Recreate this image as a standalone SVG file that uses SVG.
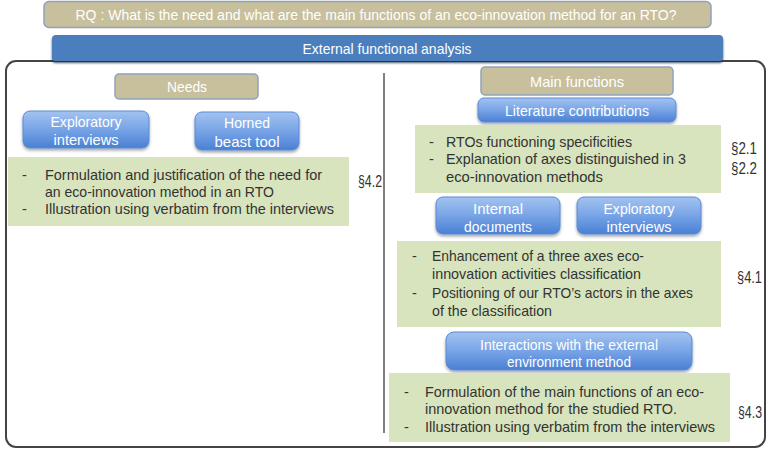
<svg xmlns="http://www.w3.org/2000/svg" width="768" height="450" viewBox="0 0 768 450">
<defs>
<linearGradient id="gBlue" x1="0" y1="0" x2="0" y2="1">
<stop offset="0" stop-color="#a3c3f0"/>
<stop offset="0.5" stop-color="#78a4e6"/>
<stop offset="1" stop-color="#4a80d4"/>
</linearGradient>
<filter id="sh" x="-10%" y="-20%" width="120%" height="160%">
<feDropShadow dx="0" dy="2" stdDeviation="1.5" flood-color="#000" flood-opacity="0.35"/>
</filter>
<filter id="shDark" x="-5%" y="-20%" width="110%" height="160%">
<feDropShadow dx="0" dy="2" stdDeviation="1.2" flood-color="#1a2a44" flood-opacity="0.8"/>
</filter>
</defs>
<style>
text{font-family:"Liberation Sans",Arial,sans-serif;}
.tan{fill:#c8bf9c;stroke:#8ea2bc;stroke-width:1.5;}
.btn{fill:url(#gBlue);stroke:#5b8ad2;stroke-width:1;filter:url(#sh);}
.green{fill:#d7e4bd;}
.w{fill:#ffffff;font-size:15px;text-anchor:middle;}
.t{fill:#333333;font-size:14.5px;}
.sec{fill:#333333;font-size:16px;}
</style>
<g id="rq">
<rect class="tan" x="44" y="1.5" width="667" height="26" rx="5"/>
<text class="w" x="376" y="19.5" font-size="15.5" textLength="601" lengthAdjust="spacingAndGlyphs" fill="#f4f2ea">RQ : What is the need and what are the main functions of an eco-innovation method for an RTO?</text>
</g>
<g id="outer">
<rect x="6" y="61" width="759" height="386" rx="10" fill="#ffffff" stroke="#444444" stroke-width="2"/>
</g>
<g id="efa">
<rect x="52" y="35" width="671" height="26" rx="4" fill="#4b7ebd" filter="url(#shDark)"/>
<text class="w" x="387" y="53.5" textLength="169" lengthAdjust="spacingAndGlyphs">External functional analysis</text>
</g>
<g id="connectors">
<line x1="384" y1="73" x2="384" y2="433" stroke="#555555" stroke-width="1.5"/>
</g>
<g id="needs">
<rect class="tan" x="115" y="74" width="143" height="25" rx="4"/>
<text class="w" x="187" y="92" textLength="40" lengthAdjust="spacingAndGlyphs">Needs</text>
</g>
<g id="expl-left">
<rect class="btn" x="23" y="111" width="126" height="37" rx="7"/>
<text class="w" x="86" y="126.5" textLength="71" lengthAdjust="spacingAndGlyphs">Exploratory</text>
<text class="w" x="86" y="144.5" textLength="65" lengthAdjust="spacingAndGlyphs">interviews</text>
</g>
<g id="horned">
<rect class="btn" x="195" y="112" width="104" height="38" rx="7"/>
<text class="w" x="247" y="127.5" textLength="46" lengthAdjust="spacingAndGlyphs">Horned</text>
<text class="w" x="247" y="146.5" textLength="65" lengthAdjust="spacingAndGlyphs">beast tool</text>
</g>
<g id="need-result">
<rect class="green" x="8" y="157" width="341" height="69"/>
<text class="t" x="22" y="180">-</text>
<text class="t" x="45" y="180" textLength="277" lengthAdjust="spacingAndGlyphs">Formulation and justification of the need for</text>
<text class="t" x="45" y="197" textLength="229" lengthAdjust="spacingAndGlyphs">an eco-innovation method in an RTO</text>
<text class="t" x="22" y="214">-</text>
<text class="t" x="45" y="214" textLength="289" lengthAdjust="spacingAndGlyphs">Illustration using verbatim from the interviews</text>
<text class="sec" x="358" y="187" textLength="24" lengthAdjust="spacingAndGlyphs">§4.2</text>
</g>
<g id="main-functions">
<rect class="tan" x="481" y="67" width="192" height="28" rx="4"/>
<text class="w" x="577" y="86.5" textLength="94" lengthAdjust="spacingAndGlyphs">Main functions</text>
</g>
<g id="literature">
<rect class="btn" x="478" y="98" width="198" height="24" rx="6"/>
<text class="w" x="577" y="115.5" textLength="144" lengthAdjust="spacingAndGlyphs">Literature contributions</text>
</g>
<g id="lit-result">
<rect class="green" x="415" y="125" width="306" height="68"/>
<text class="t" x="429" y="147">-</text>
<text class="t" x="446" y="147" textLength="186" lengthAdjust="spacingAndGlyphs">RTOs functioning specificities</text>
<text class="t" x="429" y="164">-</text>
<text class="t" x="446" y="164" textLength="240" lengthAdjust="spacingAndGlyphs">Explanation of axes distinguished in 3</text>
<text class="t" x="446" y="182" textLength="157" lengthAdjust="spacingAndGlyphs">eco-innovation methods</text>
<text class="sec" x="731" y="154" textLength="26" lengthAdjust="spacingAndGlyphs">§2.1</text>
<text class="sec" x="731" y="174" textLength="26" lengthAdjust="spacingAndGlyphs">§2.2</text>
</g>
<g id="internal-docs">
<rect class="btn" x="436" y="197" width="124" height="37" rx="7"/>
<text class="w" x="498" y="213.5" textLength="50" lengthAdjust="spacingAndGlyphs">Internal</text>
<text class="w" x="498" y="231.5" textLength="68" lengthAdjust="spacingAndGlyphs">documents</text>
</g>
<g id="expl-right">
<rect class="btn" x="577" y="197" width="124" height="37" rx="7"/>
<text class="w" x="639" y="213.5" textLength="71" lengthAdjust="spacingAndGlyphs">Exploratory</text>
<text class="w" x="639" y="231.5" textLength="65" lengthAdjust="spacingAndGlyphs">interviews</text>
</g>
<g id="classif-result">
<rect class="green" x="397" y="241" width="324" height="86"/>
<text class="t" x="412" y="261">-</text>
<text class="t" x="432" y="261" textLength="212" lengthAdjust="spacingAndGlyphs">Enhancement of a three axes eco-</text>
<text class="t" x="432" y="279" textLength="209" lengthAdjust="spacingAndGlyphs">innovation activities classification</text>
<text class="t" x="412" y="298">-</text>
<text class="t" x="432" y="298" textLength="261" lengthAdjust="spacingAndGlyphs">Positioning of our RTO’s actors in the axes</text>
<text class="t" x="432" y="316" textLength="120" lengthAdjust="spacingAndGlyphs">of the classification</text>
<text class="sec" x="737" y="283" textLength="25" lengthAdjust="spacingAndGlyphs">§4.1</text>
</g>
<g id="interactions">
<rect class="btn" x="446" y="332" width="246" height="38" rx="8"/>
<text class="w" x="569" y="349.5" textLength="178" lengthAdjust="spacingAndGlyphs">Interactions with the external</text>
<text class="w" x="569" y="366.5" textLength="124" lengthAdjust="spacingAndGlyphs">environment method</text>
</g>
<g id="functions-result">
<rect class="green" x="389" y="373" width="341" height="69"/>
<text class="t" x="404" y="397">-</text>
<text class="t" x="425" y="397" textLength="279" lengthAdjust="spacingAndGlyphs">Formulation of the main functions of an eco-</text>
<text class="t" x="425" y="414" textLength="252" lengthAdjust="spacingAndGlyphs">innovation method for the studied RTO.</text>
<text class="t" x="404" y="432">-</text>
<text class="t" x="425" y="432" textLength="290" lengthAdjust="spacingAndGlyphs">Illustration using verbatim from the interviews</text>
<text class="sec" x="738" y="418" textLength="24" lengthAdjust="spacingAndGlyphs">§4.3</text>
</g>
</svg>
